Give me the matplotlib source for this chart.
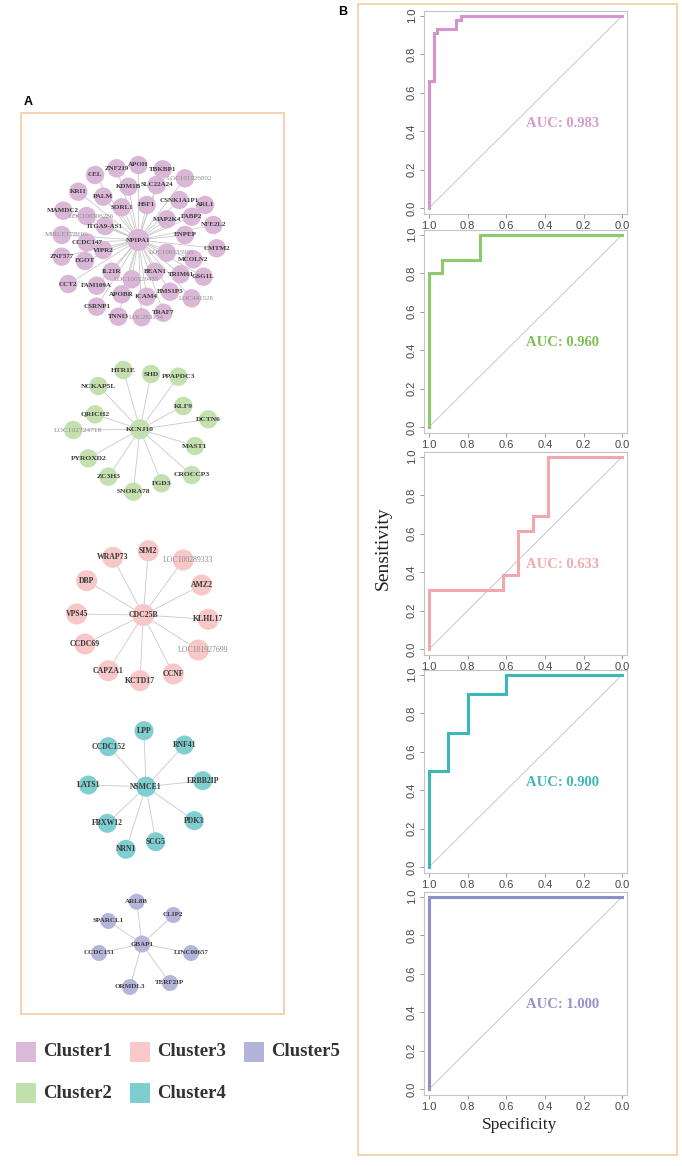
import matplotlib
matplotlib.use("Agg")
import matplotlib.pyplot as plt
from matplotlib.patches import Circle, Rectangle

W, H = 682, 1166
SERIF = "Liberation Serif"
SANS = "Liberation Sans"
BOX = "#f5cfaa"
EDGE = "#c9c9c9"

# ---- cluster networks (hub first, then neighbours) ----
c1_names = ["NPIPA1", "ZNF219", "APOH", "TBKBP1", "LOC101926892", "CEL", "KDM1B",
            "SLC22A24", "KRI1", "PALM", "CSNK1A1P1", "ARL1", "SORL1", "HSF1", "MAMDC2",
            "LOC100506286", "MAP2K4", "FABP2", "NFE2L2", "ITGA9-AS1", "MIRLET7BHG",
            "CCDC147", "ENPEP", "VIPR2", "LOC100133985", "CMTM2", "MCOLN2", "ZNF577",
            "EGOT", "IL21R", "BEAN1", "TRIM61", "GSG1L", "LOC100129455", "CCT2",
            "FAM109A", "APOBR", "ICAM4", "BMS1P5", "LOC441528", "CSRNP1", "TRAF7",
            "TNNI3", "LOC283154"]
c2_names = ["KCNJ10", "HTR1E", "SHD", "PPAPDC3", "NCKAP5L", "KLF9", "QRICH2", "DCTN6",
            "LOC102724718", "MAST1", "PYROXD2", "CROCCP3", "ZC3H3", "SNORA78", "FGD3"]
c3_names = ["CDC25B", "SIM2", "WRAP73", "LOC100289333", "DBP", "AMZ2", "VPS45", "KLHL17",
            "CCDC69", "LOC101927699", "CAPZA1", "KCTD17", "CCNF"]
c4_names = ["NSMCE1", "LPP", "CCDC152", "RNF41", "LATS1", "ERBB2IP", "FBXW12", "PDK3",
            "SCG5", "NRN1"]
c5_names = ["GBAP1", "ARL8B", "CLIP2", "SPARCL1", "CCDC151", "LINC00657", "ORMDL3",
            "TERF2IP"]
c4_extra_edges = [("FBXW12", "SCG5")]

# layout (pixel coordinates of the reference)
c1_xy = [(138.3, 240.0), (116.7, 168.3), (138.3, 165.0), (162.7, 169.3), (185.0, 178.3),
         (95.0, 175.0), (128.5, 186.7), (156.5, 185.0), (78.3, 191.7), (103.3, 196.7),
         (179.3, 200.0), (205.0, 205.0), (121.7, 207.3), (146.7, 205.0), (63.3, 210.7),
         (86.7, 216.0), (166.7, 219.3), (191.7, 216.7), (213.3, 225.0), (105.0, 226.0),
         (61.7, 235.0), (86.7, 242.3), (185.0, 235.0), (103.3, 250.0), (166.7, 252.7),
         (216.7, 248.3), (193.3, 259.3), (61.7, 256.7), (85.0, 261.0), (111.7, 271.7),
         (155.0, 271.7), (180.5, 274.3), (203.5, 276.7), (131.7, 279.3), (68.3, 284.0),
         (96.7, 285.7), (121.7, 294.3), (146.7, 296.7), (170.0, 291.7), (191.7, 298.3),
         (96.7, 306.7), (163.3, 312.7), (118.3, 316.7), (141.7, 317.3)]
c2_xy = [(140.0, 429.3), (123.3, 370.0), (151.0, 374.0), (178.3, 376.7), (98.3, 386.0),
         (183.3, 406.0), (95.0, 414.3), (208.3, 419.3), (73.3, 430.0), (195.0, 446.0),
         (88.3, 458.3), (191.7, 475.0), (108.3, 476.7), (133.3, 491.7), (161.7, 483.3)]
c3_xy = [(143.3, 615.0), (148.3, 550.7), (112.7, 557.3), (183.3, 560.0), (86.7, 580.7),
         (201.7, 585.0), (76.7, 614.0), (208.3, 619.3), (85.0, 644.0), (198.3, 650.0),
         (108.3, 670.7), (140.0, 680.7), (173.3, 674.0)]
c4_xy = [(146.0, 786.7), (144.0, 730.7), (108.3, 746.7), (184.3, 745.0), (88.3, 785.0),
         (202.7, 780.7), (107.3, 823.3), (194.3, 820.7), (155.7, 841.7), (126.0, 849.3)]
c5_xy = [(142.0, 944.0), (136.7, 901.7), (173.3, 915.0), (108.3, 921.0), (99.0, 953.0),
         (191.0, 953.0), (130.0, 987.0), (170.0, 983.0)]

node_colors = ["#dab7d6", "#c3e0ae", "#f8c7c7", "#7fcfd0", "#b5b5dc"]

# ---- ROC curves (specificity, sensitivity) ----
spec1 = [1.0, 1.0, 0.974, 0.974, 0.957, 0.957, 0.862, 0.862, 0.836, 0.836, 0.0]
sens1 = [0.0, 0.66, 0.66, 0.91, 0.91, 0.93, 0.93, 0.977, 0.977, 1.0, 1.0]
spec2 = [1.0, 1.0, 0.933, 0.933, 0.733, 0.733, 0.0]
sens2 = [0.0, 0.800, 0.800, 0.867, 0.867, 1.0, 1.0]
spec3 = [1.0, 1.0, 0.615, 0.615, 0.538, 0.538, 0.462, 0.462, 0.385, 0.385, 0.0]
sens3 = [0.0, 0.308, 0.308, 0.385, 0.385, 0.615, 0.615, 0.692, 0.692, 1.0, 1.0]
spec4 = [1.0, 1.0, 0.9, 0.9, 0.8, 0.8, 0.6, 0.6, 0.0]
sens4 = [0.0, 0.5, 0.5, 0.7, 0.7, 0.9, 0.9, 1.0, 1.0]
spec5 = [1.0, 1.0, 0.0]
sens5 = [0.0, 1.0, 1.0]
auc_values = [0.983, 0.960, 0.633, 0.900, 1.000]
line_colors = ["#d594cc", "#8dca6c", "#f2a7ad", "#3cb8bd", "#8e8ecb"]
text_colors = ["#d69bcf", "#7cc052", "#f2aab1", "#3cb8bd", "#9393c9"]

legend_labels = ["Cluster1", "Cluster3", "Cluster5", "Cluster2", "Cluster4"]
legend_colors = ["#dcb9d8", "#f9c8c8", "#b4b4db", "#c0e0ae", "#7dcfcf"]

fig = plt.figure(figsize=(W / 100, H / 100), dpi=100)
fig.patch.set_facecolor("white")
ax = fig.add_axes([0, 0, 1, 1])
ax.set_xlim(0, W); ax.set_ylim(H, 0); ax.axis("off")

# panel boxes and letters
ax.add_patch(Rectangle((21, 113), 263, 901, fill=False, ec=BOX, lw=1.3))
ax.add_patch(Rectangle((358, 4), 319, 1151, fill=False, ec=BOX, lw=1.3))
ax.text(28, 102, "A", fontfamily=SANS, fontweight="bold", fontsize=9, ha="center", va="center")
ax.text(343, 12, "B", fontfamily=SANS, fontweight="bold", fontsize=9, ha="center", va="center")


def network(names, xy, color, r, rhub, fs, extra=()):
    hx, hy = xy[0]
    pos = dict(zip(names, xy))
    for (x, y) in xy[1:]:
        ax.plot([hx, x], [hy, y], color=EDGE, lw=0.6, zorder=1)
    for a, b in extra:
        ax.plot([pos[a][0], pos[b][0]], [pos[a][1], pos[b][1]], color=EDGE, lw=0.6, zorder=1)
    for i, (name, (x, y)) in enumerate(zip(names, xy)):
        ax.add_patch(Circle((x, y), rhub if i == 0 else r, fc=color, ec="none", zorder=2))
        if name.startswith("LOC") or name.startswith("MIR"):
            ax.text(x + 5, y, name, fontfamily=SERIF, fontsize=fs, color="#8c8c8c",
                    ha="center", va="center", zorder=3)
        else:
            ax.text(x, y, name, fontfamily=SERIF, fontweight="bold", fontsize=fs,
                    color="#3a3a3a", ha="center", va="center", zorder=3)


network(c1_names, c1_xy, node_colors[0], 9.2, 11, 5.0)
network(c2_names, c2_xy, node_colors[1], 9.2, 10, 5.4)
network(c3_names, c3_xy, node_colors[2], 10.5, 11, 5.6)
network(c4_names, c4_xy, node_colors[3], 9.5, 10, 5.6)
network(c5_names, c5_xy, node_colors[4], 8, 8.5, 5.0)

# legend
leg_x = [16, 130, 244]
leg_y = [1052, 1093]
for i, (lab, col) in enumerate(zip(legend_labels, legend_colors)):
    x = leg_x[i % 3]; y = leg_y[i // 3]
    ax.add_patch(Rectangle((x, y - 10), 20, 20, fc=col, ec="none"))
    ax.text(x + 27, y, lab, fontfamily=SERIF, fontweight="bold", fontsize=13.5,
            color="#333333", ha="left", va="center")

# ROC panels
specs = [spec1, spec2, spec3, spec4, spec5]
senss = [sens1, sens2, sens3, sens4, sens5]
tops = [11, 230, 452, 670, 892]
for k in range(5):
    rax = fig.add_axes([424 / W, 1 - (tops[k] + 203) / H, 203 / W, 203 / H])
    rax.plot([1, 0], [0, 1], color="#c8c8c8", lw=0.7)
    rax.plot(specs[k], senss[k], color=line_colors[k], lw=2.2, solid_joinstyle="miter")
    rax.set_xlim(1.025, -0.025)
    rax.set_ylim(-0.03, 1.025)
    rax.set_xticks([1.0, 0.8, 0.6, 0.4, 0.2, 0.0])
    rax.set_yticks([0.0, 0.2, 0.4, 0.6, 0.8, 1.0])
    rax.set_xticklabels(["1.0", "0.8", "0.6", "0.4", "0.2", "0.0"])
    rax.set_yticklabels(["0.0", "0.2", "0.4", "0.6", "0.8", "1.0"], rotation=90, va="center")
    rax.tick_params(length=3, width=0.6, color="#888888", labelsize=8, labelcolor="#444444", pad=2)
    for lab in rax.get_xticklabels() + rax.get_yticklabels():
        lab.set_fontfamily(SANS)
    for s in rax.spines.values():
        s.set_color("#c4c4c4"); s.set_linewidth(0.8)
    rax.text(0.5, 0.44, f"AUC: {auc_values[k]:.3f}", fontfamily=SERIF, fontweight="bold",
             fontsize=10.5, color=text_colors[k], ha="left", va="center")

ax.text(383, 548, "Sensitivity", fontfamily=SERIF, fontsize=14, rotation=90,
        ha="center", va="center", color="#222222")
ax.text(520, 1125, "Specificity", fontfamily=SERIF, fontsize=12.5,
        ha="center", va="center", color="#222222")

fig.savefig("out.png", dpi=100, facecolor="white")
